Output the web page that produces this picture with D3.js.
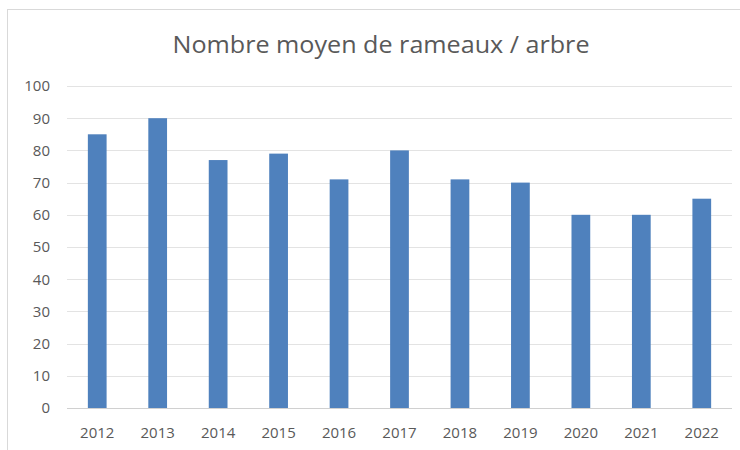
<!DOCTYPE html>
<html>
<head>
<meta charset="utf-8">
<script src="https://cdn.jsdelivr.net/npm/d3@7"></script>
<style>
  body{margin:0;background:#fff;}
</style>
</head>
<body>
<div id="viz-container"></div>
<script>
// data
let years=["2012","2013","2014","2015","2016","2017","2018","2019","2020","2021","2022"];
let rameaux=[85,90,77,79,71,80,71,70,60,60,65];
let yTicks=[0,10,20,30,40,50,60,70,80,90,100];
let title="Nombre moyen de rameaux / arbre";

let viz=d3.select("#viz-container")
 .append("svg")
   .attr("width",740)
   .attr("height",450)
   .style("font-family","'Open Sans', sans-serif");

// chart frame
viz.append("rect")
  .attr("x",7.5)
  .attr("y",9.5)
  .attr("width",740)
  .attr("height",450)
  .attr("fill","none")
  .attr("stroke","#d9d9d9");

let x=d3.scaleBand()
  .domain(years)
  .range([67,732])
  .paddingInner(0.69)
  .paddingOuter(0.345);

let y=d3.scaleLinear()
  .domain([0,100])
  .range([408,86]);

// gridlines
viz.selectAll(".grid").data(yTicks).enter()
  .append("line")
    .attr("class","grid")
    .attr("x1",67)
    .attr("x2",732)
    .attr("y1",d=>Math.round(y(d))+0.5)
    .attr("y2",d=>Math.round(y(d))+0.5)
    .attr("stroke",d=>d==0?"#d0d0d0":"#e3e3e3")
    .attr("stroke-width",1.2);

// bars
viz.selectAll(".bar").data(rameaux).enter()
  .append("rect")
    .attr("class","bar")
    .attr("x",(d,i)=>x(years[i]))
    .attr("width",x.bandwidth())
    .attr("y",d=>y(d))
    .attr("height",d=>y(0)-y(d))
    .attr("fill","#4f81bd");

// y labels
let yAxis=d3.axisLeft(y).tickValues(yTicks).tickSize(0).tickPadding(0);
let gy=viz.append("g").attr("transform","translate(50,0)").call(yAxis);
gy.select(".domain").remove();
gy.selectAll("text").attr("fill","#595959").attr("font-size",15)
  .attr("font-family","'Open Sans', sans-serif");

// x labels
let xAxis=d3.axisBottom(x).tickSize(0).tickPadding(0);
let gx=viz.append("g").attr("transform","translate(0,427)").call(xAxis);
gx.select(".domain").remove();
gx.selectAll("text").attr("fill","#595959").attr("font-size",15)
  .attr("font-family","'Open Sans', sans-serif");

// title
viz.append("text")
  .text(title)
  .attr("x",381)
  .attr("y",53)
  .attr("text-anchor","middle")
  .attr("fill","#595959")
  .attr("font-size",24)
  .attr("textLength",417)
  .attr("lengthAdjust","spacingAndGlyphs");
</script>
</body>
</html>
